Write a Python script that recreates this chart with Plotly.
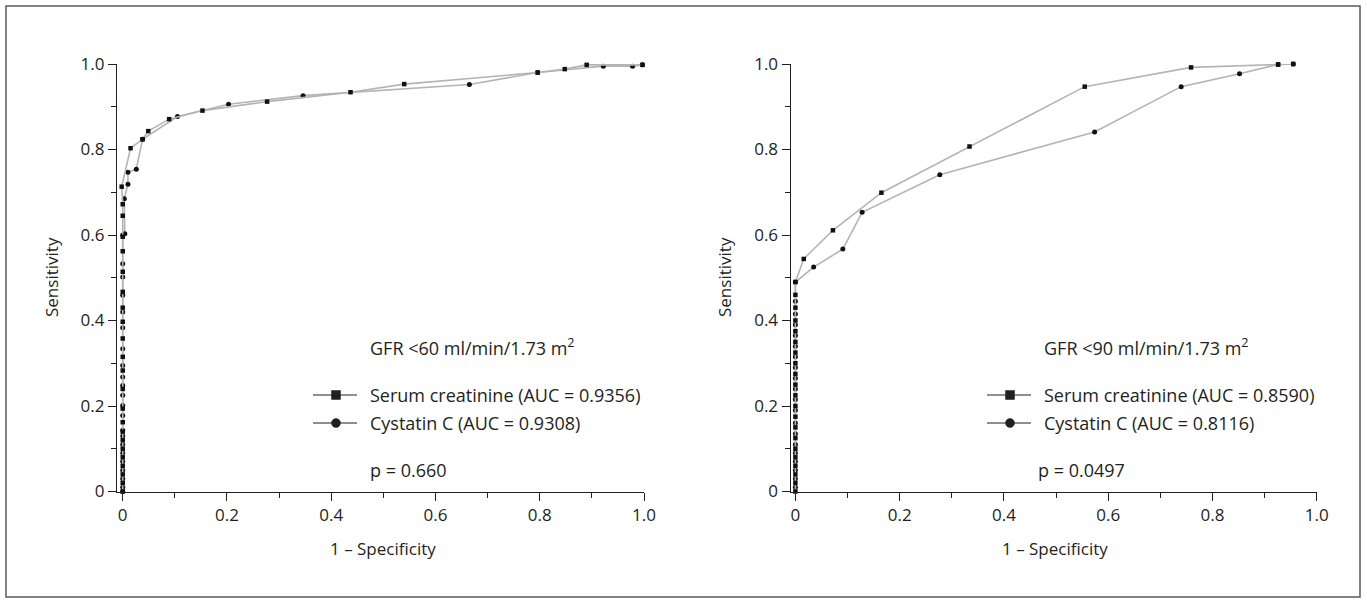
import plotly.graph_objects as go

# ---------------- data ----------------
# Left panel: GFR <60
l_cr_x = [0, 0, 0, 0, 0, 0, 0, 0, 0, 0, 0, 0, 0, 0, 0, 0, 0, 0, 0, 0, 0, 0, -0.002,
          0.015, 0.038, 0.049, 0.089, 0.153, 0.277, 0.437, 0.540, 0.796, 0.848, 0.890, 0.997]
l_cr_y = [0, 0.02, 0.04, 0.06, 0.08, 0.10, 0.12, 0.14, 0.162, 0.194, 0.240, 0.283, 0.315,
          0.358, 0.397, 0.430, 0.467, 0.514, 0.562, 0.596, 0.645, 0.672, 0.713,
          0.803, 0.824, 0.843, 0.871, 0.891, 0.912, 0.934, 0.953, 0.980, 0.988, 0.998, 0.998]
l_cy_x = [0, 0, 0, 0, 0, 0, 0, 0, 0, 0, 0, 0, 0, 0, 0, 0, 0, 0, 0, 0, 0, 0,
          0.004, 0.003, 0.010, 0.010, 0.026, 0.038, 0.105, 0.203, 0.346, 0.665, 0.796,
          0.922, 0.978, 0.997]
l_cy_y = [0, 0.01, 0.03, 0.05, 0.07, 0.09, 0.11, 0.13, 0.143, 0.178, 0.201, 0.225, 0.248,
          0.268, 0.295, 0.334, 0.383, 0.420, 0.459, 0.502, 0.533, 0.600,
          0.603, 0.685, 0.719, 0.747, 0.754, 0.824, 0.877, 0.906, 0.926, 0.952, 0.980,
          0.995, 0.995, 0.998]

# Right panel: GFR <90
r_cr_x = [0, 0, 0, 0, 0, 0, 0, 0, 0, 0, 0, 0, 0, 0, 0, 0, 0, 0, 0, 0, 0,
          0.016, 0.072, 0.165, 0.334, 0.555, 0.759, 0.926, 0.955]
r_cr_y = [0, 0.02, 0.04, 0.06, 0.08, 0.10, 0.125, 0.15, 0.175, 0.20, 0.225, 0.25, 0.275,
          0.30, 0.325, 0.35, 0.375, 0.40, 0.43, 0.46, 0.49,
          0.544, 0.611, 0.699, 0.807, 0.947, 0.992, 0.999, 1.0]
r_cy_x = [0, 0, 0, 0, 0, 0, 0, 0, 0, 0, 0, 0, 0, 0, 0, 0, 0, 0, 0, 0,
          0.035, 0.091, 0.128, 0.277, 0.574, 0.740, 0.852, 0.926, 0.955]
r_cy_y = [0.01, 0.03, 0.05, 0.07, 0.09, 0.11, 0.135, 0.16, 0.19, 0.215, 0.24, 0.265, 0.29,
          0.315, 0.34, 0.365, 0.39, 0.415, 0.445, 0.49,
          0.525, 0.567, 0.653, 0.741, 0.841, 0.947, 0.977, 0.999, 1.0]

tick_vals = [0, 0.2, 0.4, 0.6, 0.8, 1.0]
tick_text = ["0", "0.2", "0.4", "0.6", "0.8", "1.0"]
y_tick_text = ["0", "0.2", "0.4", "0.6", "0.8", "1.0"]

series_names = ["Serum creatinine", "Cystatin C"]
left_auc = ["0.9356", "0.9308"]
right_auc = ["0.8590", "0.8116"]
left_title = "GFR &lt;60 ml/min/1.73 m<sup>2</sup>"
right_title = "GFR &lt;90 ml/min/1.73 m<sup>2</sup>"
left_p = "p = 0.660"
right_p = "p = 0.0497"

# ---------------- figure ----------------
W, H = 1367, 605
FONT = "Open Sans"
LINE_C = "#b4b4b4"
TXT_C = "#231f20"

def px(x):
    return x / W

def py(y):
    return 1 - y / H

fig = go.Figure()

def add_curve(x, y, sym, size, xa, ya):
    fig.add_trace(go.Scatter(
        x=x, y=y, mode="lines+markers", xaxis=xa, yaxis=ya,
        line=dict(color=LINE_C, width=1.6),
        marker=dict(color="#111111", size=size, symbol=sym),
        cliponaxis=False, showlegend=False, hoverinfo="x+y"))

add_curve(l_cy_x, l_cy_y, "circle", 5, "x", "y")
add_curve(l_cr_x, l_cr_y, "square", 4.5, "x", "y")
add_curve(r_cy_x, r_cy_y, "circle", 5, "x2", "y2")
add_curve(r_cr_x, r_cr_y, "square", 4.5, "x2", "y2")

ax_common = dict(
    showgrid=False, zeroline=False, showline=True, linecolor="#231f20", linewidth=1.4,
    ticks="outside", ticklen=8, tickwidth=1.2, tickcolor="#231f20", automargin=False,
    tickfont=dict(family=FONT, size=17, color=TXT_C),
    minor=dict(ticks="outside", ticklen=5, tickwidth=1.2, tickcolor="#231f20", dtick=0.1,
               showgrid=False),
)

# pixel geometry
L_X0, L_X1 = 117, 644
R_X0, R_X1 = 790.7, 1316.7
Y_TOP, Y_BOT = 64, 491.5

fig.update_layout(
    width=W, height=H, margin=dict(l=0, r=0, t=0, b=0, autoexpand=False),
    paper_bgcolor="white", plot_bgcolor="white",
    xaxis=dict(domain=[px(L_X0), px(L_X1)], range=[-0.011, 1.0], anchor="y",
               tickvals=tick_vals, ticktext=tick_text, **ax_common),
    yaxis=dict(domain=[py(Y_BOT), py(Y_TOP)], range=[0, 1.0], anchor="x",
               tickvals=tick_vals, ticktext=y_tick_text, **ax_common),
    xaxis2=dict(domain=[px(R_X0), px(R_X1)], range=[-0.009, 1.0], anchor="y2",
                tickvals=tick_vals, ticktext=tick_text, **ax_common),
    yaxis2=dict(domain=[py(Y_BOT), py(Y_TOP)], range=[0, 1.0], anchor="x2",
                tickvals=tick_vals, ticktext=y_tick_text, **ax_common),
    showlegend=False,
)

# outer frame
fig.add_shape(type="rect", xref="paper", yref="paper",
              x0=px(6), x1=px(1360), y0=py(597), y1=py(6),
              line=dict(color="#5a5a5a", width=1.5))

def text(x, y, s, size=18, xanchor="left", angle=0):
    fig.add_annotation(x=px(x), y=py(y), xref="paper", yref="paper", text=s,
                       showarrow=False, xanchor=xanchor, yanchor="middle",
                       textangle=angle,
                       font=dict(family=FONT, size=size, color=TXT_C))

# axis titles
text(52, 277, "Sensitivity", size=17, xanchor="center", angle=-90)
text(725, 277, "Sensitivity", size=17, xanchor="center", angle=-90)
text(383, 548, "1 – Specificity", size=17, xanchor="center")
text(1055, 548, "1 – Specificity", size=17, xanchor="center")

# panel texts + legends
def panel_legend(line_x0, text_x, aucs, title, ptxt, title_x, p_x):
    text(title_x, 347, title)
    rows = [395, 423]
    for i, (name, auc) in enumerate(zip(series_names, aucs)):
        yy = rows[i]
        fig.add_shape(type="line", xref="paper", yref="paper",
                      x0=px(line_x0), x1=px(line_x0 + 44), y0=py(yy), y1=py(yy),
                      line=dict(color="#231f20", width=1.2))
        cx = line_x0 + 23
        r = 4.5
        fig.add_shape(type="rect" if i == 0 else "circle", xref="paper", yref="paper",
                      x0=px(cx - r), x1=px(cx + r), y0=py(yy + r), y1=py(yy - r),
                      line=dict(color="#231f20", width=0.5), fillcolor="#231f20")
        text(text_x, yy, f"{name} (AUC = {auc})")
    text(p_x, 470, ptxt)

panel_legend(313, 368, left_auc, left_title, left_p, 368, 368)
panel_legend(987, 1042, right_auc, right_title, right_p, 1042, 1036)

fig.write_html("out.html", config={"displayModeBar": False},
               post_script="document.body.style.margin='0';document.body.style.overflow='hidden';")
